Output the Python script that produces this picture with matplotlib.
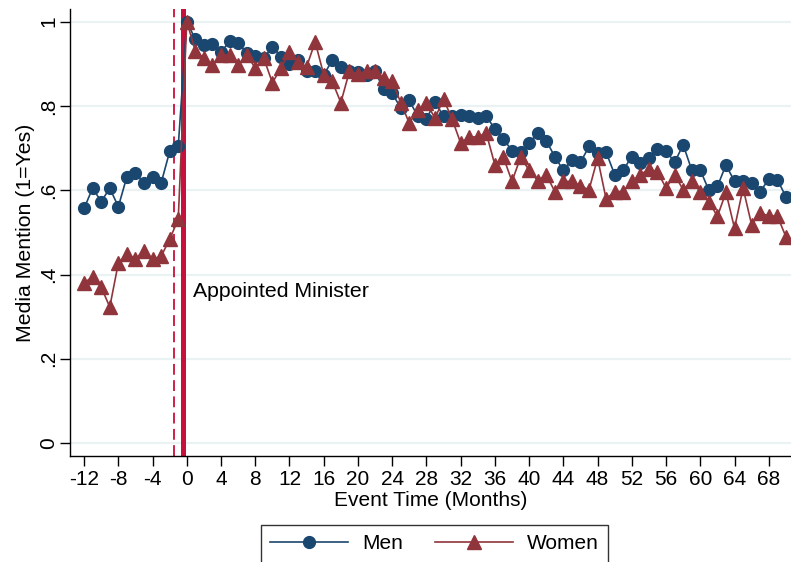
import matplotlib.pyplot as plt
import numpy as np

plt.rcParams['font.family'] = ['Liberation Sans', 'DejaVu Sans']

# event time in months
months = np.arange(-12, 71)

men = [0.557, 0.605, 0.573, 0.605, 0.561, 0.632, 0.642, 0.617, 0.632, 0.617, 0.692, 0.704,
       1.0, 0.958, 0.945, 0.947, 0.928, 0.953, 0.950, 0.925, 0.919, 0.913, 0.941, 0.917,
       0.900, 0.909, 0.884, 0.882, 0.873, 0.909, 0.892, 0.884, 0.880, 0.873, 0.882, 0.840,
       0.830, 0.795, 0.813, 0.775, 0.769, 0.810, 0.775, 0.775, 0.779, 0.775, 0.771, 0.776,
       0.745, 0.721, 0.694, 0.690, 0.712, 0.735, 0.717, 0.680, 0.647, 0.672, 0.666, 0.704,
       0.688, 0.690, 0.637, 0.648, 0.680, 0.664, 0.676, 0.697, 0.694, 0.666, 0.708, 0.648,
       0.648, 0.600, 0.609, 0.660, 0.621, 0.621, 0.618, 0.597, 0.626, 0.625, 0.585]

women = [0.380, 0.395, 0.370, 0.323, 0.427, 0.449, 0.437, 0.457, 0.437, 0.443, 0.484, 0.531,
         1.0, 0.931, 0.913, 0.897, 0.921, 0.921, 0.897, 0.921, 0.890, 0.913, 0.855, 0.890,
         0.929, 0.905, 0.893, 0.952, 0.874, 0.858, 0.808, 0.882, 0.876, 0.882, 0.882, 0.866,
         0.858, 0.808, 0.759, 0.791, 0.807, 0.771, 0.816, 0.769, 0.712, 0.726, 0.727, 0.735,
         0.660, 0.678, 0.621, 0.678, 0.648, 0.623, 0.637, 0.597, 0.621, 0.621, 0.610, 0.601,
         0.676, 0.579, 0.597, 0.597, 0.621, 0.637, 0.650, 0.644, 0.605, 0.637, 0.601, 0.621,
         0.597, 0.573, 0.538, 0.595, 0.510, 0.605, 0.518, 0.546, 0.539, 0.539, 0.490]

x_ticks = np.arange(-12, 69, 4)
y_ticks = [0, 0.2, 0.4, 0.6, 0.8, 1.0]
y_labels = ['0', '.2', '.4', '.6', '.8', '1']

navy = '#1a476f'
maroon = '#90353b'
red = '#c8103c'

fig = plt.figure(figsize=(7.91, 5.62), dpi=100)
ax = fig.add_axes([0.089, 0.189, 0.911, 0.795])

for y in y_ticks:
    ax.axhline(y, color='#eaf2f3', linewidth=1.6, zorder=0)

ax.axvline(-1.5, color=red, linewidth=1.3, linestyle=(0, (6, 3)), zorder=1)
ax.axvline(-0.5, color=red, linewidth=3.6, zorder=1)

ax.plot(months, men, color=navy, marker='o', markersize=8.5, linewidth=1.2,
        label='Men', zorder=3)
ax.plot(months, women, color=maroon, marker='^', markersize=9.5, linewidth=1.2,
        label='Women', zorder=4)

ax.text(0.7, 0.359, 'Appointed Minister', fontsize=15.3, va='center', ha='left')

ax.set_xlim(-13.6, 70.6)
ax.set_ylim(-0.03, 1.03)
ax.set_xticks(x_ticks)
ax.set_xticklabels([str(t) for t in x_ticks], fontsize=15)
ax.set_yticks(y_ticks)
ax.set_yticklabels(y_labels, fontsize=15, rotation=90, va='center')
ax.tick_params(axis='both', direction='out', length=7, width=1, color='black')
ax.tick_params(axis='x', pad=3)
ax.tick_params(axis='y', pad=2)

for side in ['top', 'right']:
    ax.spines[side].set_visible(False)
for side in ['left', 'bottom']:
    ax.spines[side].set_linewidth(1.0)

ax.set_xlabel('Event Time (Months)', fontsize=15, labelpad=2)
ax.set_ylabel('Media Mention (1=Yes)', fontsize=15.3, labelpad=3)

leg = fig.legend(loc='upper center', bbox_to_anchor=(0.5493, 0.0658), ncol=2,
                 fontsize=15, frameon=True, fancybox=False, handlelength=3.75,
                 handletextpad=0.67, columnspacing=1.55, borderpad=0.45,
                 borderaxespad=0)
leg.get_frame().set_edgecolor('black')
leg.get_frame().set_linewidth(1.0)

fig.savefig('out.png', dpi=100)
